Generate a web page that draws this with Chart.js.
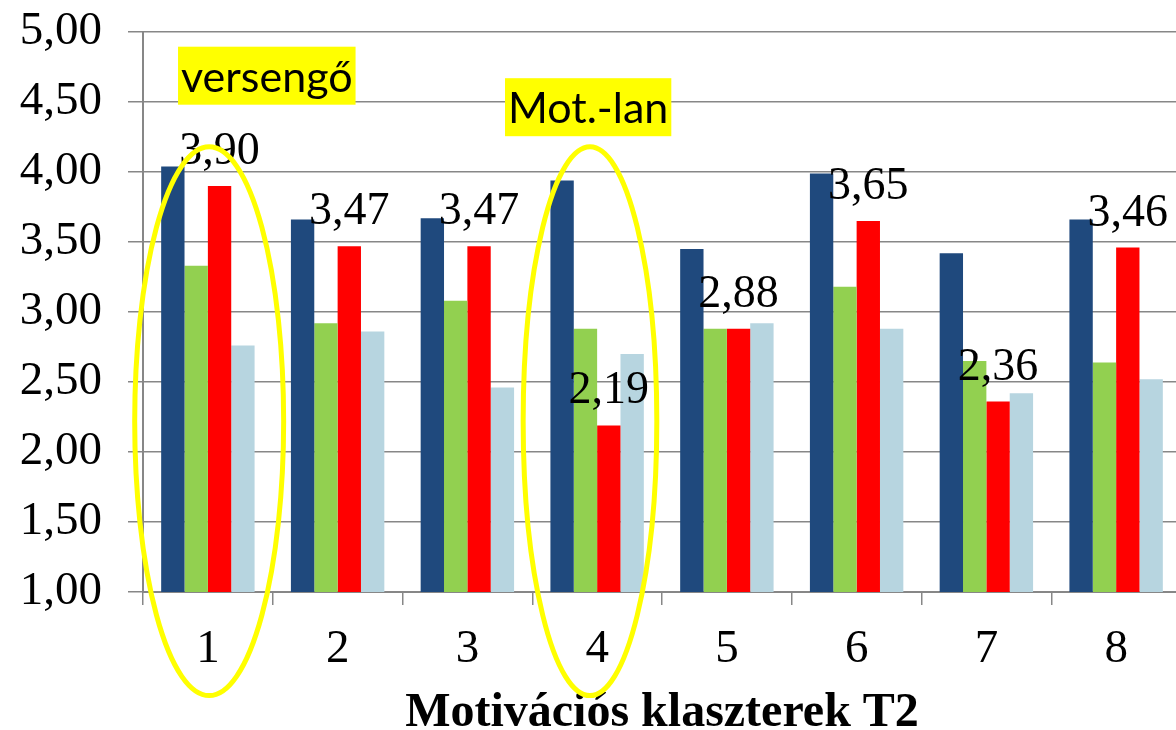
<!DOCTYPE html>
<html>
<head>
<meta charset="utf-8">
<script src="https://cdn.jsdelivr.net/npm/chart.js@4.4.1/dist/chart.umd.min.js"></script>
<style>
  html, body { margin: 0; padding: 0; background: #fff; overflow: hidden; }
  #wrap { width: 1200px; height: 730px; }
</style>
</head>
<body>
<div id="wrap"><canvas id="chart" width="1200" height="730"></canvas></div>
<script>
// klaszterek (x kategóriák)
const clusters = ['1', '2', '3', '4', '5', '6', '7', '8'];

// négy sorozat
const seriesBlue      = [4.04, 3.66, 3.67, 3.94, 3.45, 3.99, 3.42, 3.66];
const seriesGreen     = [3.33, 2.92, 3.08, 2.88, 2.88, 3.18, 2.65, 2.64];
const seriesRed       = [3.90, 3.47, 3.47, 2.19, 2.88, 3.65, 2.36, 3.46];
const seriesLightBlue = [2.76, 2.86, 2.46, 2.70, 2.92, 2.88, 2.42, 2.52];

const yMin = 1;
const yMax = 5;
const yStep = 0.5;
const xTitle = 'Motivációs klaszterek T2';

// bekarikázott klaszterek és a sárga feliratok
const markedIndex = [0, 3];
const markedText = ['versengő', 'Mot.-lan'];

const GRID = '#878787';
const SERIF = '"Liberation Serif", "Times New Roman", serif';

function fmt(v) {
  return v.toFixed(2).replace('.', ',');
}

// a piros sorozat értékei a oszlopok fölött
const redLabels = {
  id: 'redLabels',
  afterDatasetsDraw(chart) {
    const ctx = chart.ctx;
    const meta = chart.getDatasetMeta(2);
    ctx.save();
    ctx.font = '46px ' + SERIF;
    ctx.fillStyle = '#000';
    ctx.textAlign = 'center';
    ctx.textBaseline = 'alphabetic';
    meta.data.forEach((bar, i) => {
      ctx.fillText(fmt(seriesRed[i]), bar.x, bar.y - 22);
    });
    ctx.restore();
  }
};

// sárga ellipszisek + kiemelt feliratok
const highlights = {
  id: 'highlights',
  afterDraw(chart) {
    const ctx = chart.ctx;
    const x = chart.scales.x;
    const y = chart.scales.y;
    const cat = (x.right - x.left) / clusters.length;
    const shapes = [
      { dx: 0.01, rx: 0.574, textDx: -0.23, textTop: 4.895 },
      { dx: -0.055, rx: 0.515, textDx: -0.71, textTop: 4.67 }
    ];
    ctx.save();
    markedIndex.forEach((idx, k) => {
      const s = shapes[k];
      const cx = x.getPixelForValue(idx) + s.dx * cat;
      const top = y.getPixelForValue(4.18);
      const bottom = y.getPixelForValue(0.26);
      ctx.beginPath();
      ctx.ellipse(cx, (top + bottom) / 2, s.rx * cat, (bottom - top) / 2, 0, 0, Math.PI * 2);
      ctx.strokeStyle = '#FFFF00';
      ctx.lineWidth = 5;
      ctx.stroke();

      ctx.font = '43px Lato, "Open Sans", sans-serif';
      const w = ctx.measureText(markedText[k]).width;
      const bx = x.getPixelForValue(idx) + s.textDx * cat;
      const by = y.getPixelForValue(s.textTop);
      ctx.fillStyle = '#FFFF00';
      ctx.fillRect(bx, by, w + 6, 58);
      ctx.fillStyle = '#000';
      ctx.textAlign = 'left';
      ctx.textBaseline = 'alphabetic';
      ctx.fillText(markedText[k], bx + 3, by + 45);
    });
    ctx.restore();
  }
};

const ctx = document.getElementById('chart').getContext('2d');

new Chart(ctx, {
  type: 'bar',
  data: {
    labels: clusters,
    datasets: [
      { data: seriesBlue, backgroundColor: '#1F497D' },
      { data: seriesGreen, backgroundColor: '#92D050' },
      { data: seriesRed, backgroundColor: '#FF0000' },
      { data: seriesLightBlue, backgroundColor: '#B7D5E0' }
    ]
  },
  options: {
    responsive: false,
    animation: false,
    categoryPercentage: 0.72,
    barPercentage: 1,
    layout: { padding: { top: 32, right: 19, left: 0, bottom: 0 } },
    plugins: {
      legend: { display: false },
      tooltip: { enabled: false }
    },
    scales: {
      x: {
        grid: {
          drawOnChartArea: false,
          drawTicks: true,
          tickLength: 13,
          color: GRID,
          lineWidth: 1.5,
          offset: true
        },
        border: { display: true, color: GRID, width: 2 },
        ticks: {
          font: { family: SERIF, size: 47 },
          color: '#000',
          padding: 16,
          maxRotation: 0
        },
        title: {
          display: true,
          text: xTitle,
          color: '#000',
          font: { family: SERIF, size: 48, weight: 'bold', lineHeight: 0.7 },
          padding: 0
        },
        afterFit(s) { s.height = 138; }
      },
      y: {
        min: yMin,
        max: yMax,
        ticks: {
          stepSize: yStep,
          font: { family: SERIF, size: 47 },
          color: '#000',
          padding: 26,
          callback: v => fmt(v)
        },
        grid: {
          color: GRID,
          lineWidth: 1.5,
          drawTicks: true,
          tickLength: 15
        },
        border: { display: true, color: GRID, width: 2 },
        afterFit(s) {
          s.width = 143;
          s.paddingTop = 0;
          s.paddingBottom = 0;
        }
      }
    }
  },
  plugins: [redLabels, highlights]
});
</script>
</body>
</html>
